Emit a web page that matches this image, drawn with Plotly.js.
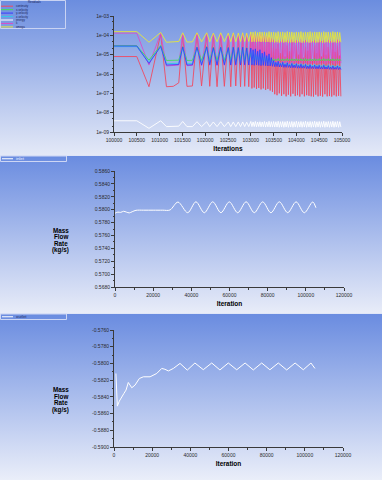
<!DOCTYPE html>
<html>
<head>
<meta charset="utf-8">
<script src="https://cdn.plot.ly/plotly-3.0.1.min.js"></script>
<style>
  html, body { margin:0; padding:0; width:382px; height:480px; overflow:hidden; background:#e6ebf8; }
  .panel { width:382px; position:relative; }
  #resid { height:155px; background:linear-gradient(to bottom, #6b8ddf 0%, #e4e9f7 100%); }
  #inlet { height:158px; background:linear-gradient(to bottom, #dfe5f7 0px, #dfe5f7 1px, #6a8ce0 1px, #e8ecf8 100%); }
  #outlet { height:167px; background:linear-gradient(to bottom, #dfe5f7 0px, #dfe5f7 1px, #6a8ce0 1px, #eaeef9 100%); }
</style>
</head>
<body>
<div id="resid" class="panel"></div>
<div id="inlet" class="panel"></div>
<div id="outlet" class="panel"></div>
<script>
// ---------------- DATA: residuals ----------------
const residualIterEarly = [100000,100500,100767,101024,101150,101300,101420,101507,101600,101720,
  101820,101920,102033,102100,102178,102260,102340,102420,102507,102560,
  102616,102670,102726,102775,102822,102866,102910,102955];
const residualIterDense = [103000,103025,103050,103075,103100,103125,103150,103175,103200,103225,
  103250,103275,103300,103325,103350,103375,103400,103425,103450,103475,
  103500,103525,103550,103575,103600,103625,103650,103675,103700,103725,
  103750,103775,103800,103825,103850,103875,103900,103925,103950,103975,
  104000,104025,104050,104075,104100,104125,104150,104175,104200,104225,
  104250,104275,104300,104325,104350,104375,104400,104425,104450,104475,
  104500,104525,104550,104575,104600,104625,104650,104675,104700,104725,
  104750,104775,104800,104825,104850,104875,104900,104925,104950,104975];

const residualNames = ['continuity','x-velocity','y-velocity','z-velocity','energy','k','omega'];

const continuityEarly = [8e-6,8e-6,2.2e-7,1.2e-4,2.2e-7,2.3e-7,3.5e-7,1.1e-4,2.3e-7,2.4e-7,
  1.2e-4,2.4e-7,1.2e-4,2.3e-7,1.1e-4,2.2e-7,1.2e-4,2.3e-7,1.1e-4,2.2e-7,
  1.2e-4,2.4e-7,1.1e-4,2.2e-7,1.2e-4,2.3e-7,1.1e-4,2.2e-7];
const continuityDense = [1.1e-4,1.8e-7,9e-5,2.0e-7,1.0e-4,1.7e-7,8e-5,1.9e-7,1.1e-4,1.6e-7,
  7e-5,1.8e-7,9e-5,1.5e-7,6e-5,1.7e-7,8e-5,1.4e-7,5e-5,1.2e-7,
  4e-5,9e-8,2e-5,8e-8,3.5e-5,1.0e-7,1.2e-5,7.5e-8,4e-5,9e-8,
  8e-6,7e-8,3e-5,8.5e-8,1.5e-5,7e-8,4.5e-5,9.5e-8,6e-6,7.2e-8,
  3e-5,8e-8,1e-5,6.8e-8,4e-5,9e-8,7e-6,7e-8,2.5e-5,8e-8,
  1.6e-5,7.5e-8,4e-5,7e-8,5e-6,6.8e-8,3e-5,8.5e-8,1.2e-5,7e-8,
  4.5e-5,7.5e-8,8e-6,6.8e-8,3.5e-5,9e-8,1e-5,7e-8,2.5e-5,7.2e-8,
  6e-6,6.8e-8,4e-5,8e-8,1.4e-5,7e-8,3e-5,7.5e-8,9e-6,7e-8];

const xVelEarly = [2.9e-5,2.9e-5,5.2e-6,3.0e-5,5.0e-6,5.0e-6,5.2e-6,2.6e-5,5.0e-6,5.1e-6,
  2.5e-5,5.0e-6,2.6e-5,5.1e-6,2.4e-5,5.0e-6,2.5e-5,5.1e-6,2.4e-5,5.0e-6,
  2.5e-5,5.1e-6,2.4e-5,5.0e-6,2.4e-5,5.1e-6,2.3e-5,5.0e-6];
const xVelDense = [1.2e-5,5.0e-6,9e-6,4.9e-6,1.1e-5,5.0e-6,8e-6,4.9e-6,1.0e-5,5.0e-6,
  7e-6,4.9e-6,8e-6,5.0e-6,6.5e-6,4.9e-6,7e-6,4.8e-6,6e-6,4.9e-6,
  6.2e-6,4.8e-6,5.8e-6,4.9e-6,6.4e-6,4.8e-6,5.8e-6,4.9e-6,6.2e-6,4.8e-6,
  5.8e-6,4.9e-6,6.4e-6,4.8e-6,5.9e-6,4.9e-6,6.2e-6,4.8e-6,5.8e-6,4.9e-6,
  6.3e-6,4.8e-6,5.8e-6,4.9e-6,6.2e-6,4.8e-6,5.9e-6,4.9e-6,6.4e-6,4.8e-6,
  5.8e-6,4.9e-6,6.2e-6,4.8e-6,5.9e-6,4.9e-6,6.3e-6,4.8e-6,5.8e-6,4.9e-6,
  6.2e-6,4.8e-6,5.9e-6,4.9e-6,6.4e-6,4.8e-6,5.8e-6,4.9e-6,6.2e-6,4.8e-6,
  5.9e-6,4.9e-6,6.3e-6,4.8e-6,5.8e-6,4.9e-6,6.2e-6,4.8e-6,5.9e-6,4.9e-6];

const yVelEarly = [2.8e-5,2.8e-5,3.5e-6,2.7e-5,2.9e-6,2.9e-6,3.1e-6,2.5e-5,2.9e-6,3.0e-6,
  2.4e-5,2.9e-6,2.5e-5,3.0e-6,2.3e-5,2.9e-6,2.4e-5,3.0e-6,2.3e-5,2.9e-6,
  2.4e-5,3.0e-6,2.3e-5,2.9e-6,2.4e-5,3.0e-6,2.2e-5,2.9e-6];
const yVelDense = [2.2e-5,2.9e-6,1.8e-5,2.8e-6,2.0e-5,2.9e-6,1.5e-5,2.8e-6,1.8e-5,2.7e-6,
  1.2e-5,2.8e-6,1.4e-5,2.7e-6,9e-6,2.6e-6,1.1e-5,2.6e-6,7e-6,2.5e-6,
  5e-6,2.4e-6,4e-6,2.4e-6,4.5e-6,2.3e-6,3.5e-6,2.3e-6,4e-6,2.2e-6,
  3.2e-6,2.2e-6,3.8e-6,2.2e-6,3e-6,2.1e-6,3.5e-6,2.1e-6,2.9e-6,2.1e-6,
  3.4e-6,2.0e-6,2.8e-6,2.0e-6,3.2e-6,2.0e-6,2.7e-6,2.0e-6,3.1e-6,1.9e-6,
  2.6e-6,1.9e-6,3.0e-6,1.9e-6,2.5e-6,1.9e-6,2.9e-6,1.85e-6,2.5e-6,1.85e-6,
  2.8e-6,1.8e-6,2.4e-6,1.8e-6,2.8e-6,1.8e-6,2.3e-6,1.8e-6,2.7e-6,1.75e-6,
  2.3e-6,1.75e-6,2.6e-6,1.75e-6,2.2e-6,1.75e-6,2.6e-6,1.7e-6,2.2e-6,1.7e-6];

const zVelEarly = [2.6e-5,2.6e-5,4.2e-6,2.6e-5,3.4e-6,3.4e-6,3.6e-6,2.4e-5,3.4e-6,3.5e-6,
  2.3e-5,3.4e-6,2.4e-5,3.5e-6,2.2e-5,3.4e-6,2.3e-5,3.5e-6,2.2e-5,3.4e-6,
  2.3e-5,3.5e-6,2.2e-5,3.4e-6,2.3e-5,3.5e-6,2.1e-5,3.4e-6];
const zVelDense = [2.0e-5,3.3e-6,1.6e-5,3.2e-6,1.8e-5,3.3e-6,1.4e-5,3.2e-6,1.6e-5,3.1e-6,
  1.1e-5,3.1e-6,1.2e-5,3.0e-6,8e-6,3.0e-6,9e-6,2.9e-6,6e-6,2.9e-6,
  5e-6,2.8e-6,4e-6,2.8e-6,4.4e-6,2.7e-6,3.8e-6,2.7e-6,4.2e-6,2.6e-6,
  3.6e-6,2.6e-6,4e-6,2.6e-6,3.4e-6,2.5e-6,3.8e-6,2.5e-6,3.3e-6,2.5e-6,
  3.6e-6,2.4e-6,3.2e-6,2.4e-6,3.5e-6,2.4e-6,3.1e-6,2.4e-6,3.4e-6,2.3e-6,
  3.0e-6,2.3e-6,3.3e-6,2.3e-6,2.9e-6,2.3e-6,3.2e-6,2.2e-6,2.9e-6,2.2e-6,
  3.1e-6,2.2e-6,2.8e-6,2.2e-6,3.1e-6,2.2e-6,2.7e-6,2.1e-6,3.0e-6,2.1e-6,
  2.7e-6,2.1e-6,2.9e-6,2.1e-6,2.6e-6,2.1e-6,2.9e-6,2.0e-6,2.6e-6,2.0e-6];

const energyEarly = [3.8e-9,3.8e-9,1.55e-9,3.8e-9,1.9e-9,1.9e-9,2.0e-9,3.5e-9,1.9e-9,1.9e-9,
  3.4e-9,1.9e-9,3.4e-9,1.9e-9,3.3e-9,1.9e-9,3.4e-9,1.9e-9,3.3e-9,1.9e-9,
  3.3e-9,1.9e-9,3.3e-9,1.9e-9,3.3e-9,1.9e-9,3.2e-9,1.9e-9];
const energyDense = [3.5e-9,1.9e-9,3.3e-9,1.9e-9,3.5e-9,1.85e-9,3.3e-9,1.9e-9,3.4e-9,1.85e-9,
  3.3e-9,1.85e-9,3.5e-9,1.8e-9,3.3e-9,1.85e-9,3.6e-9,1.8e-9,3.4e-9,1.8e-9,
  3.5e-9,1.8e-9,3.4e-9,1.8e-9,3.6e-9,1.75e-9,3.4e-9,1.8e-9,3.5e-9,1.75e-9,
  3.4e-9,1.8e-9,3.6e-9,1.75e-9,3.4e-9,1.8e-9,3.5e-9,1.75e-9,3.4e-9,1.8e-9,
  3.6e-9,1.75e-9,3.4e-9,1.8e-9,3.5e-9,1.75e-9,3.4e-9,1.8e-9,3.6e-9,1.75e-9,
  3.4e-9,1.8e-9,3.5e-9,1.75e-9,3.4e-9,1.8e-9,3.6e-9,1.75e-9,3.4e-9,1.8e-9,
  3.5e-9,1.75e-9,3.4e-9,1.8e-9,3.6e-9,1.75e-9,3.4e-9,1.8e-9,3.5e-9,1.75e-9,
  3.4e-9,1.8e-9,3.6e-9,1.75e-9,3.4e-9,1.8e-9,3.5e-9,1.75e-9,3.4e-9,1.8e-9];

const kEarly = [1.3e-4,1.3e-4,2.9e-6,1.25e-4,2.6e-6,2.7e-6,2.9e-6,1.2e-4,2.7e-6,2.8e-6,
  1.2e-4,2.7e-6,1.25e-4,2.8e-6,1.2e-4,2.7e-6,1.2e-4,2.8e-6,1.2e-4,2.9e-6,
  1.2e-4,2.8e-6,1.2e-4,2.9e-6,1.2e-4,2.8e-6,1.2e-4,3.0e-6];
const kDense = [1.2e-4,3.4e-6,1.1e-4,3.5e-6,1.2e-4,3.3e-6,1.0e-4,3.6e-6,1.15e-4,3.4e-6,
  1.1e-4,3.5e-6,1.0e-4,3.3e-6,9e-5,3.6e-6,8e-5,3.4e-6,7e-5,3.5e-6,
  6e-5,3.5e-6,5e-5,3.6e-6,5.5e-5,3.4e-6,4.8e-5,3.7e-6,6e-5,3.5e-6,
  5e-5,3.6e-6,5.5e-5,3.4e-6,4.6e-5,3.6e-6,6e-5,3.5e-6,5e-5,3.7e-6,
  5.5e-5,3.5e-6,4.8e-5,3.6e-6,6e-5,3.4e-6,5e-5,3.6e-6,5.5e-5,3.5e-6,
  4.7e-5,3.6e-6,5.8e-5,3.4e-6,5e-5,3.6e-6,5.5e-5,3.5e-6,4.8e-5,3.7e-6,
  6e-5,3.5e-6,5e-5,3.6e-6,5.5e-5,3.4e-6,4.7e-5,3.6e-6,5.8e-5,3.5e-6,
  5e-5,3.6e-6,5.5e-5,3.4e-6,4.8e-5,3.6e-6,6e-5,3.5e-6,5e-5,3.6e-6];

const omegaEarly = [1.55e-4,1.55e-4,4.4e-5,1.4e-4,4.4e-5,4.5e-5,4.8e-5,1.35e-4,4.5e-5,4.6e-5,
  1.35e-4,4.6e-5,1.35e-4,4.6e-5,1.3e-4,4.6e-5,1.35e-4,4.7e-5,1.3e-4,4.7e-5,
  1.35e-4,4.7e-5,1.3e-4,4.8e-5,1.35e-4,4.8e-5,1.3e-4,4.8e-5];
const omegaDense = [1.5e-4,4.6e-5,1.45e-4,4.7e-5,1.55e-4,4.5e-5,1.4e-4,4.8e-5,1.5e-4,4.6e-5,
  1.45e-4,4.7e-5,1.5e-4,4.5e-5,1.4e-4,4.6e-5,1.55e-4,4.4e-5,1.45e-4,4.5e-5,
  1.5e-4,4.3e-5,1.4e-4,4.4e-5,1.55e-4,4.2e-5,1.45e-4,4.4e-5,1.5e-4,4.3e-5,
  1.4e-4,4.4e-5,1.55e-4,4.2e-5,1.45e-4,4.3e-5,1.5e-4,4.4e-5,1.4e-4,4.2e-5,
  1.5e-4,4.3e-5,1.45e-4,4.4e-5,1.55e-4,4.2e-5,1.4e-4,4.3e-5,1.5e-4,4.4e-5,
  1.45e-4,4.2e-5,1.55e-4,4.3e-5,1.4e-4,4.4e-5,1.5e-4,4.2e-5,1.45e-4,4.3e-5,
  1.5e-4,4.4e-5,1.4e-4,4.2e-5,1.55e-4,4.3e-5,1.45e-4,4.4e-5,1.5e-4,4.2e-5,
  1.4e-4,4.3e-5,1.55e-4,4.4e-5,1.45e-4,4.2e-5,1.5e-4,4.3e-5,1.4e-4,4.4e-5];

const residualXTicks = [100000,100500,101000,101500,102000,102500,103000,103500,104000,104500,105000];
const residualXLabels = ['100000','100500','101000','101500','102000','102500','103000','103500','104000','104500','105000'];
const residualYTicks = [1e-9,1e-8,1e-7,1e-6,1e-5,1e-4,1e-3];
const residualYLabels = ['1e-09','1e-08','1e-07','1e-06','1e-05','1e-04','1e-03'];

// ---------------- DATA: mass flow ----------------
const inletIter = [0,1500,3000,4500,6000,7500,9000,11000,15000,20000,25000,28800,33000,38100,42400,46800,
  51200,55500,59900,64300,68700,73000,77400,81700,86100,90500,94900,99200,103600,105300];
const inletFlow = [0.57945,0.57962,0.57958,0.57975,0.57962,0.57950,0.57968,0.57990,0.57992,0.57992,
  0.57992,0.57995,0.58118,0.57953,0.58122,0.57952,0.58122,0.57953,0.58121,0.57952,0.58122,0.57953,
  0.58121,0.57952,0.58122,0.57953,0.58121,0.57952,0.58120,0.58030];

const outletIter = [1000,1750,2800,4000,5200,6300,7500,9300,11000,13300,15400,18900,22400,25000,26700,
  28500,31100,34600,38400,42400,46800,51200,55500,59900,64300,68700,73000,77400,81700,86100,90500,
  94900,99200,103200,105300];
const outletFlow = [-0.58120,-0.58511,-0.58451,-0.58399,-0.58359,-0.58319,-0.58228,-0.58291,-0.58260,
  -0.58180,-0.58160,-0.58160,-0.58120,-0.58060,-0.58070,-0.58090,-0.58060,-0.58000,-0.58080,-0.57995,
  -0.58075,-0.57995,-0.58078,-0.57995,-0.58076,-0.57995,-0.58078,-0.57995,-0.58076,-0.57995,-0.58078,
  -0.57995,-0.58076,-0.57995,-0.58060];

const flowXTicks = [0,20000,40000,60000,80000,100000,120000];
const flowXLabels = ['0','20000','40000','60000','80000','100000','120000'];
const inletYTicks = [0.568,0.570,0.572,0.574,0.576,0.578,0.580,0.582,0.584,0.586];
const inletYLabels = ['0.5680','0.5700','0.5720','0.5740','0.5760','0.5780','0.5800','0.5820','0.5840','0.5860'];
const outletYTicks = [-0.590,-0.588,-0.586,-0.584,-0.582,-0.580,-0.578,-0.576];
const outletYLabels = ['-0.5900','-0.5880','-0.5860','-0.5840','-0.5820','-0.5800','-0.5780','-0.5760'];
const flowYTitle = ['Mass','Flow','Rate','(kg/s)'];

// ---------------- RENDERING ----------------
const FONT = 'Liberation Sans, Arial, sans-serif';
const W = 382;
const AX = '#3a3a3a';
function axisBase(extra) {
  return Object.assign({
    showgrid:false, zeroline:false, showline:true, linecolor:AX, linewidth:1,
    ticks:'outside', ticklen:3, tickwidth:1, tickcolor:AX,
    tickfont:{family:FONT, size:5, color:'#2a2a2a'}, fixedrange:true
  }, extra);
}
function conv(m, H) {
  const pw = W - m.l - m.r, ph = H - m.t - m.b;
  return { x: px => (px - m.l) / pw, y: py => 1 - (py - m.t) / ph };
}
function boxShape(c, x0, y0, x1, y1, color) {
  return {type:'rect', xref:'paper', yref:'paper', x0:c.x(x0), x1:c.x(x1), y0:c.y(y1), y1:c.y(y0),
          line:{color:color, width:1}, fillcolor:'rgba(0,0,0,0)'};
}
function lineShape(c, x0, x1, py, color) {
  return {type:'line', xref:'paper', yref:'paper', x0:c.x(x0), x1:c.x(x1), y0:c.y(py), y1:c.y(py),
          line:{color:color, width:1}};
}
function label(c, px, py, text, size, color, anchor, bold) {
  return {xref:'paper', yref:'paper', x:c.x(px), y:c.y(py), text:text, showarrow:false,
          xanchor:anchor || 'left', yanchor:'middle', borderpad:0,
          font:{family:FONT, size:size, color:color, weight: bold ? 'bold' : 'normal'}};
}
const cfg = {staticPlot:true, displayModeBar:false};

// ---- Residuals panel ----
(function(){
  const H = 155, m = {l:114, r:40, t:16, b:23};
  const c = conv(m, H);
  const colors = {continuity:'#ef4a62', 'x-velocity':'#44dd55', 'y-velocity':'#3b3bff',
                  'z-velocity':'#33c8e8', energy:'#ffffff', k:'#d84ec8', omega:'#e6e63a'};
  const yData = {
    continuity: continuityEarly.concat(continuityDense),
    'x-velocity': xVelEarly.concat(xVelDense),
    'y-velocity': yVelEarly.concat(yVelDense),
    'z-velocity': zVelEarly.concat(zVelDense),
    energy: energyEarly.concat(energyDense),
    k: kEarly.concat(kDense),
    omega: omegaEarly.concat(omegaDense)
  };
  const xs = residualIterEarly.concat(residualIterDense);
  const drawOrder = ['energy','continuity','k','x-velocity','z-velocity','y-velocity','omega'];
  const traces = drawOrder.map(n => ({
    type:'scatter', mode:'lines', name:n, x:xs, y:yData[n],
    line:{color:colors[n], width:0.9}, showlegend:false
  }));
  const shapes = [boxShape(c, 0.5, 0.5, 65.5, 28.5, '#c9d3f3')];
  const ann = [label(c, 34, 2.3, 'Residuals', 2.9, '#1c2458', 'center')];
  residualNames.forEach((n, i) => {
    const py = 6.2 + i * 3.45;
    shapes.push(lineShape(c, 1, 13, py, colors[n]));
    ann.push(label(c, 14.5, py, n, 2.9, '#1c2458', 'left'));
  });
  const layout = {
    width:W, height:H, margin:m, paper_bgcolor:'rgba(0,0,0,0)', plot_bgcolor:'rgba(0,0,0,0)',
    showlegend:false,
    xaxis: axisBase({range:[100000,105000], tickmode:'array', tickvals:residualXTicks, ticktext:residualXLabels,
      title:{text:'Iterations', font:{family:FONT, size:6.5, color:'#000', weight:'bold'}, standoff:4}}),
    yaxis: axisBase({type:'log', range:[-9,-3], tickmode:'array', tickvals:residualYTicks, ticktext:residualYLabels,
      minor:{ticks:'outside', ticklen:1.5, tickcolor:AX, tickwidth:1}}),
    shapes:shapes, annotations:ann
  };
  Plotly.newPlot('resid', traces, layout, cfg);
})();

// ---- Mass flow panels ----
function flowPanel(div, H, m, xs, ys, yr, yt, yl, name, legY0, legY1, legTextColor, spline) {
  const c = conv(m, H);
  const legMid = (legY0 + legY1) / 2;
  const trace = {type:'scatter', mode:'lines', name:name, x:xs, y:ys,
    line:{color:'#ffffff', width:1, shape: spline ? 'spline' : 'linear', smoothing:0.9}, showlegend:false};
  const shapes = [boxShape(c, 0.5, legY0, 66.5, legY1, '#cdd6f4'), lineShape(c, 2, 13, legMid, '#ffffff')];
  const plotMidY = m.t + (H - m.t - m.b) / 2;
  const ann = [label(c, 15, legMid, name, 4.3, legTextColor, 'left')];
  flowYTitle.forEach((t, i) => {
    ann.push(label(c, 60.5, plotMidY + 1 + i * 6.7, t, 6.3, '#000', 'center', true));
  });
  const layout = {
    width:W, height:H, margin:m, paper_bgcolor:'rgba(0,0,0,0)', plot_bgcolor:'rgba(0,0,0,0)',
    showlegend:false,
    xaxis: axisBase({range:[0,120000], tickmode:'array', tickvals:flowXTicks, ticktext:flowXLabels,
      minor:{ticks:'outside', ticklen:1.5, tickcolor:AX, dtick:10000, tickwidth:1},
      title:{text:'Iteration', font:{family:FONT, size:6.5, color:'#000', weight:'bold'}, standoff:4}}),
    yaxis: axisBase({range:yr, tickmode:'array', tickvals:yt, ticktext:yl,
      minor:{ticks:'outside', ticklen:1.5, tickcolor:AX, dtick:0.001, tickwidth:1}}),
    shapes:shapes, annotations:ann
  };
  Plotly.newPlot(div, [trace], layout, cfg);
}
flowPanel('inlet', 158, {l:115, r:38, t:16, b:26}, inletIter, inletFlow, [0.568,0.586],
  inletYTicks, inletYLabels, 'inlet', 1, 6.5, '#eef2ff', true);
flowPanel('outlet', 167, {l:114, r:39, t:17, b:33}, outletIter, outletFlow, [-0.590,-0.576],
  outletYTicks, outletYLabels, 'outlet', 1, 6.5, '#26306a', false);
</script>
</body>
</html>
